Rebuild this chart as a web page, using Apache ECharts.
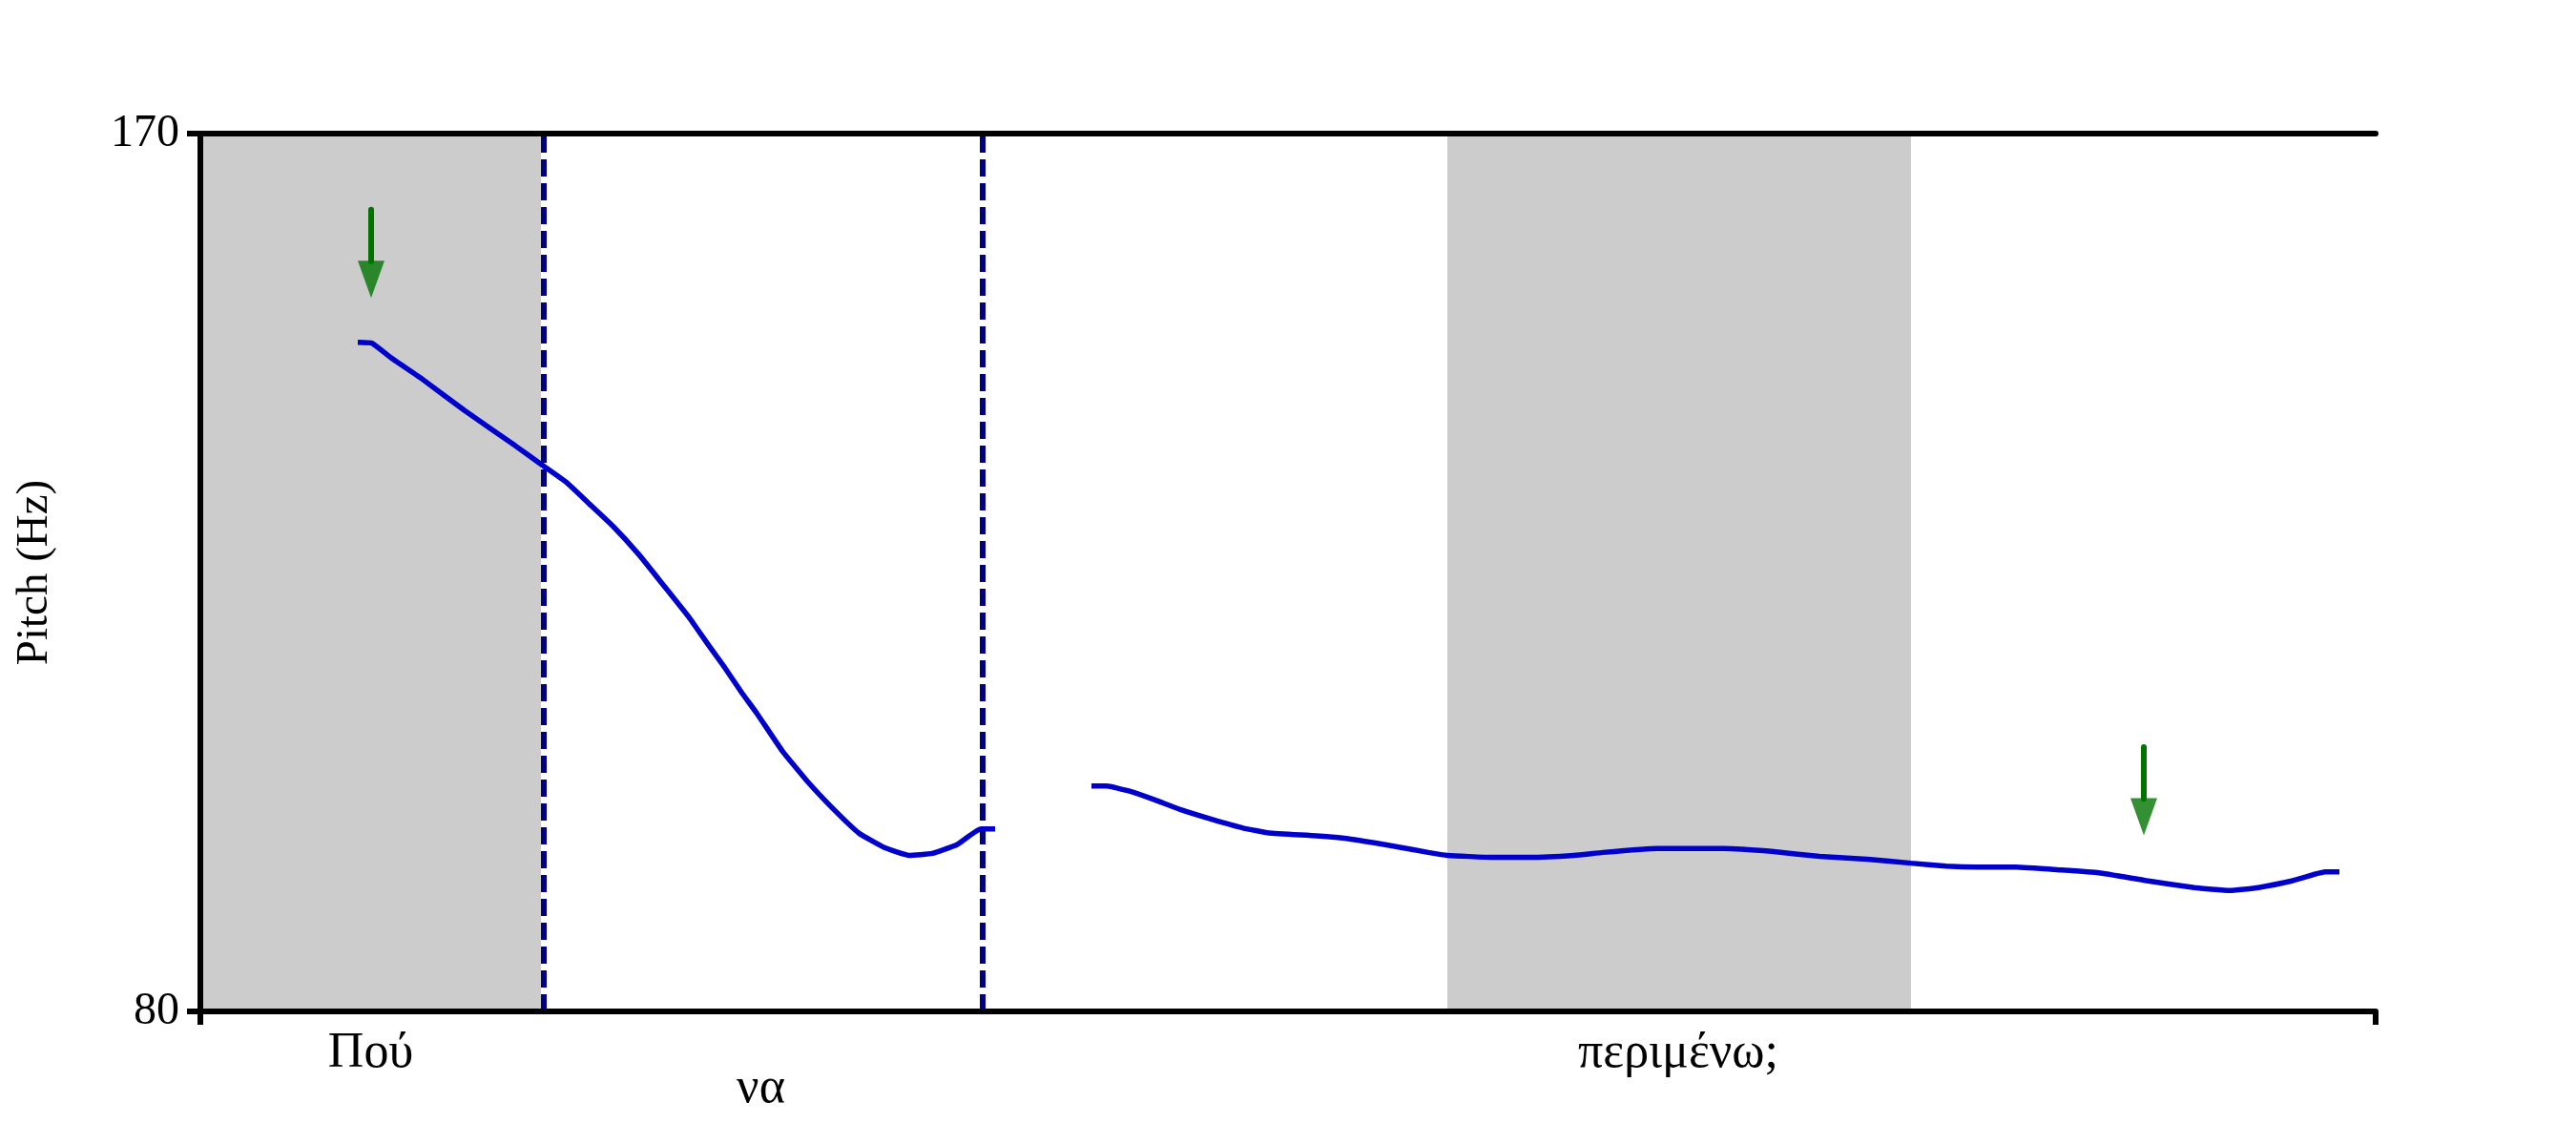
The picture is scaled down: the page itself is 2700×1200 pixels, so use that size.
<!DOCTYPE html>
<html><head><meta charset="utf-8">
<script src="https://cdn.jsdelivr.net/npm/echarts@6/dist/echarts.min.js"></script>
<style>html,body{margin:0;padding:0;background:#fff}#c{width:2700px;height:1200px}</style>
</head><body><div id="c"></div>
<script>
// ---- data (time in s, pitch in Hz) ----
const seg1Time = [0.0825,0.09,0.1,0.1165,0.1385,0.165,0.1785,0.1915,0.2035,0.2165,0.23,0.2435,0.2565,0.2665,0.275,0.284,0.2915,0.305,0.3185,0.3315,0.345,0.3585,0.3715,0.3835,0.3965,0.409,0.4165];
const seg1Hz   = [148.6,148.5,147.0,144.8,141.6,138.0,136.1,134.3,132.1,129.7,126.8,123.5,120.3,117.5,115.2,112.6,110.6,106.7,103.5,100.8,98.3,96.8,96.0,96.2,97.1,98.7,98.7];
const seg2Time = [0.467,0.475,0.4865,0.5,0.5135,0.53,0.5465,0.56,0.585,0.6015,0.6265,0.6435,0.6535,0.6765,0.6965,0.72,0.735,0.7635,0.7985,0.8235,0.8485,0.8735,0.8965,0.915,0.9315,0.9515,0.975,0.995,1.02,1.045,1.0635,1.0785,1.0965,1.1135,1.121];
const seg2Hz   = [103.1,103.1,102.6,101.7,100.7,99.7,98.8,98.3,98.0,97.7,96.9,96.3,96.0,95.8,95.8,96.0,96.3,96.7,96.7,96.4,95.9,95.6,95.2,94.9,94.8,94.8,94.5,94.2,93.4,92.7,92.4,92.7,93.4,94.3,94.3];
const shadedStart = [0, 0.6535];
const shadedEnd   = [0.1785, 0.8965];
const boundaryTimes = [0.1785, 0.409];
const words     = ['Πού', 'να', 'περιμένω;'];
const wordStart = [0, 0.1785, 0.409];
const wordEnd   = [0.1785, 0.409, 1.14];
const arrowTime   = [0.0895, 1.0185];
const arrowTopHz  = [162.2, 107.1];
const arrowBaseHz = [156.9, 101.8];
const arrowTipHz  = [153.2, 98.1];
const yTickValues = [80, 170];
const timeMin = 0, timeMax = 1.14;
const yMin = 80, yMax = 170;

// ---- styles ----
const FONT = "'Liberation Serif', 'Times New Roman', serif";
const curveColor = '#0000cd';
const arrowColor = '#007400';
const wordRowOffset = [44, 81, 44];

const zip = (a, b) => a.map((v, i) => [v, b[i]]);

const chart = echarts.init(document.getElementById('c'), null, {renderer: 'canvas'});

const arrowSeries = [];
arrowTime.forEach((t, i) => {
  arrowSeries.push({
    type: 'line', z: 7, symbol: 'none', silent: true,
    data: [[t, arrowTopHz[i]], [t, arrowBaseHz[i]]],
    lineStyle: {color: arrowColor, width: 6, cap: 'round'}
  });
});
arrowSeries.push({
  type: 'scatter', z: 7, silent: true,
  symbol: 'triangle', symbolSize: [28, 39], symbolRotate: 180,
  itemStyle: {color: arrowColor},
  data: arrowTime.map((t, i) => [t, (arrowBaseHz[i] + arrowTipHz[i]) / 2])
});

const option = {
  backgroundColor: '#ffffff',
  animation: false,
  grid: {left: 210, right: 210, top: 140, bottom: 140},
  xAxis: [{
    type: 'value', min: timeMin, max: timeMax, position: 'bottom', z: 10,
    axisLine: {show: true, lineStyle: {color: '#000', width: 6}},
    axisTick: {show: true, customValues: [timeMin, timeMax], length: 14, lineStyle: {color: '#000', width: 6}},
    axisLabel: {show: false},
    splitLine: {show: false}
  }, {
    type: 'value', min: timeMin, max: timeMax, position: 'top', z: 10,
    axisLine: {show: true, lineStyle: {color: '#000', width: 6}},
    axisTick: {show: false}, axisLabel: {show: false}, splitLine: {show: false}
  }],
  yAxis: [{
    type: 'value', min: yMin, max: yMax, position: 'left', z: 10,
    name: 'Pitch (Hz)', nameLocation: 'middle', nameGap: 150,
    nameTextStyle: {fontFamily: FONT, fontSize: 47, color: '#000'},
    axisLine: {show: true, lineStyle: {color: '#000', width: 6}},
    axisTick: {show: true, customValues: yTickValues, length: 14, lineStyle: {color: '#000', width: 6}},
    axisLabel: {show: true, customValues: yTickValues, margin: 22, fontFamily: FONT, fontSize: 48, color: '#000'},
    splitLine: {show: false}
  }, {
    type: 'value', min: yMin, max: yMax, position: 'right', z: 10,
    axisLine: {show: true, lineStyle: {color: '#000', width: 6}},
    axisTick: {show: false}, axisLabel: {show: false}, splitLine: {show: false}
  }],
  series: [
    {
      type: 'line', z: 1, silent: true, symbol: 'none', data: [],
      markArea: {
        silent: true,
        itemStyle: {color: '#cccccc'},
        data: shadedStart.map((s, i) => [{xAxis: s}, {xAxis: shadedEnd[i]}])
      }
    },
    {
      type: 'line', z: 5, symbol: 'none', smooth: 0.12, silent: true,
      data: zip(seg1Time, seg1Hz),
      lineStyle: {color: curveColor, width: 5.5}
    },
    {
      type: 'line', z: 5, symbol: 'none', smooth: 0.12, silent: true,
      data: zip(seg2Time, seg2Hz),
      lineStyle: {color: curveColor, width: 5.5}
    },
    {
      type: 'line', z: 6, symbol: 'none', silent: true, data: [],
      markLine: {
        silent: true, symbol: 'none', label: {show: false},
        lineStyle: {color: '#000080', width: 6, type: [18, 7]},
        data: boundaryTimes.map(t => ({xAxis: t}))
      }
    },
    ...arrowSeries,
    {
      type: 'scatter', z: 8, silent: true, clip: false,
      symbol: 'rect', symbolSize: 1,
      itemStyle: {color: 'rgba(0,0,0,0)'},
      data: words.map((w, i) => ({
        value: [(wordStart[i] + wordEnd[i]) / 2, yMin],
        name: w,
        label: {offset: [0, wordRowOffset[i]]}
      })),
      label: {
        show: true, position: 'inside', formatter: p => p.name,
        fontFamily: FONT, fontSize: 52, color: '#000000',
        opacity: 1, textBorderWidth: 0
      },
      emphasis: {disabled: true}
    }
  ]
};
chart.setOption(option);
</script>
</body></html>
